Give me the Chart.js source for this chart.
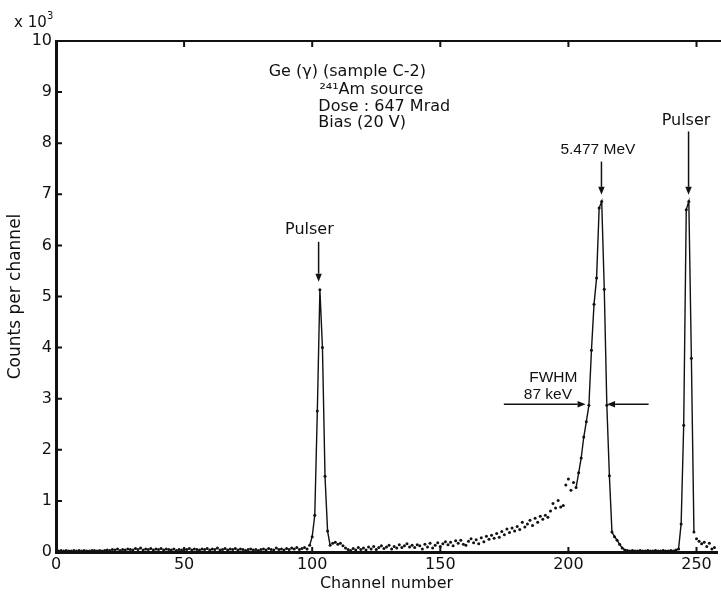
<!DOCTYPE html>
<html>
<head>
<meta charset="utf-8">
<script src="https://cdn.jsdelivr.net/npm/chart.js@4.4.1/dist/chart.umd.min.js"></script>
<style>
  html, body { margin: 0; padding: 0; background: #fff; }
  #wrap { width: 721px; height: 597px; }
</style>
</head>
<body>
<div id="wrap"><canvas id="chart" width="721" height="597"></canvas></div>
<script>
// tick values
const xTicks = [0, 50, 100, 150, 200, 250];
const yTicks = [0, 1, 2, 3, 4, 5, 6, 7, 8, 9, 10];

// counts per channel (x 10^3), channel 0..257
const counts = [
  0.03, 0.02, 0.03, 0.02, 0.03, 0.02, 0.02, 0.03, 0.02, 0.03,
  0.02, 0.03, 0.02, 0.02, 0.03, 0.03, 0.02, 0.03, 0.02, 0.03,
  0.04, 0.03, 0.05, 0.04, 0.06, 0.03, 0.05, 0.04, 0.06, 0.05,
  0.04, 0.07, 0.05, 0.08, 0.04, 0.06, 0.05, 0.07, 0.04, 0.06,
  0.05, 0.07, 0.04, 0.06, 0.05, 0.04, 0.06, 0.03, 0.05, 0.04,
  0.06, 0.05, 0.07, 0.04, 0.06, 0.05, 0.04, 0.06, 0.05, 0.07,
  0.04, 0.06, 0.05, 0.08, 0.04, 0.05, 0.07, 0.04, 0.06, 0.05,
  0.07, 0.04, 0.06, 0.05, 0.03, 0.05, 0.06, 0.04, 0.05, 0.03,
  0.05, 0.06, 0.04, 0.07, 0.05, 0.04, 0.08, 0.05, 0.06, 0.04,
  0.07, 0.05, 0.08, 0.06, 0.09, 0.05, 0.07, 0.09, 0.06, 0.13,
  0.30, 0.72, 2.76, 5.13, 4.00, 1.48, 0.41, 0.13, 0.17, 0.19,
  0.15, 0.17, 0.12, 0.08, 0.05, 0.03, 0.07, 0.04, 0.09, 0.05,
  0.08, 0.04, 0.10, 0.06, 0.11, 0.05, 0.09, 0.12, 0.07, 0.10,
  0.13, 0.06, 0.11, 0.08, 0.14, 0.09, 0.12, 0.16, 0.10, 0.13,
  0.09, 0.14, 0.12, 0.06, 0.15, 0.10, 0.17, 0.08, 0.13, 0.18,
  0.11, 0.16, 0.20, 0.14, 0.19, 0.12, 0.22, 0.17, 0.23, 0.15,
  0.13, 0.21, 0.26, 0.18, 0.24, 0.16, 0.28, 0.20, 0.31, 0.25,
  0.33, 0.27, 0.36, 0.29, 0.40, 0.34, 0.45, 0.38, 0.47, 0.41,
  0.50, 0.44, 0.58, 0.49, 0.55, 0.62, 0.52, 0.66, 0.58, 0.70,
  0.64, 0.72, 0.68, 0.80, 0.95, 0.86, 1.01, 0.88, 0.91, 1.31,
  1.43, 1.21, 1.36, 1.26, 1.55, 1.84, 2.25, 2.55, 2.87, 3.95,
  4.85, 5.36, 6.73, 6.86, 5.14, 2.87, 1.49, 0.39, 0.30, 0.23,
  0.15, 0.08, 0.04, 0.03, 0.02, 0.03, 0.02, 0.02, 0.03, 0.02,
  0.02, 0.03, 0.02, 0.02, 0.03, 0.02, 0.02, 0.03, 0.02, 0.02,
  0.03, 0.02, 0.04, 0.06, 0.55, 2.48, 6.70, 6.86, 3.79, 0.39,
  0.26, 0.21, 0.16, 0.19, 0.11, 0.17, 0.06, 0.09
];

// channel ranges joined by a drawn line
const joined = [[99, 107], [203, 249]];

// annotation texts, placed in data units
const notes = [
  { text: 'Ge (γ) (sample C-2)', x: 83, y: 9.40, align: 'left' },
  { text: '²⁴¹Am source', x: 102.8, y: 9.05, align: 'left' },
  { text: 'Dose : 647 Mrad', x: 102.4, y: 8.72, align: 'left' },
  { text: 'Bias (20 V)', x: 102.4, y: 8.40, align: 'left' },
  { text: 'Pulser', x: 98.9, y: 6.31, align: 'center' },
  { text: 'Pulser', x: 245.9, y: 8.43, align: 'center' },
  { text: '5.477 MeV', x: 211.5, y: 7.87, align: 'center', sans: true },
  { text: 'FWHM', x: 194.1, y: 3.42, align: 'center', sans: true },
  { text: '87 keV', x: 192.0, y: 3.07, align: 'center', sans: true }
];

// arrows: from (x1,y1) to tip (x2,y2)
const arrows = [
  [102.5, 6.07, 102.5, 5.29],
  [212.9, 7.64, 212.9, 6.99],
  [246.9, 8.23, 246.9, 6.99],
  [174.8, 2.89, 206.7, 2.89],
  [231.3, 2.89, 215.1, 2.89]
];

const ink = '#111';
const lettering = '"DejaVu Sans", sans-serif';

function isJoined(a, b) {
  return joined.some(r => a >= r[0] && b <= r[1]);
}

const frame = {
  id: 'frame',
  afterDraw(chart) {
    const { ctx, chartArea: a, scales: { x, y } } = chart;
    ctx.save();
    ctx.strokeStyle = ink;
    ctx.lineWidth = 2;
    ctx.beginPath();
    ctx.moveTo(a.left - 1, a.top);
    ctx.lineTo(chart.width, a.top);
    yTicks.forEach(v => {
      const py = y.getPixelForValue(v);
      ctx.moveTo(a.left, py);
      ctx.lineTo(a.left + 6, py);
    });
    xTicks.forEach(v => {
      const px = x.getPixelForValue(v);
      ctx.moveTo(px, a.bottom);
      ctx.lineTo(px, a.bottom - 5);
      ctx.moveTo(px, a.top);
      ctx.lineTo(px, a.top + 6);
    });
    ctx.stroke();

    // x 10^3
    ctx.fillStyle = ink;
    ctx.font = '15px ' + lettering;
    ctx.textBaseline = 'middle';
    ctx.textAlign = 'left';
    ctx.fillText('x 10', 14, 23);
    ctx.font = '10px ' + lettering;
    ctx.fillText('3', 47, 16);

    notes.forEach(n => {
      ctx.font = n.sans ? '15.5px "Liberation Sans", Arial, sans-serif' : '16px ' + lettering;
      ctx.textAlign = n.align;
      ctx.fillText(n.text, x.getPixelForValue(n.x), y.getPixelForValue(n.y));
    });

    ctx.lineWidth = 1.5;
    arrows.forEach(([x1, y1, x2, y2]) => {
      const ax = x.getPixelForValue(x1), ay = y.getPixelForValue(y1);
      const bx = x.getPixelForValue(x2), by = y.getPixelForValue(y2);
      const ang = Math.atan2(by - ay, bx - ax);
      const hl = 8, hw = 3.2;
      const ex = bx - hl * Math.cos(ang), ey = by - hl * Math.sin(ang);
      ctx.beginPath();
      ctx.moveTo(ax, ay);
      ctx.lineTo(ex, ey);
      ctx.stroke();
      ctx.beginPath();
      ctx.moveTo(bx, by);
      ctx.lineTo(ex - hw * Math.sin(ang), ey + hw * Math.cos(ang));
      ctx.lineTo(ex + hw * Math.sin(ang), ey - hw * Math.cos(ang));
      ctx.closePath();
      ctx.fill();
    });
    ctx.restore();
  }
};

new Chart(document.getElementById('chart'), {
  type: 'scatter',
  data: {
    datasets: [{
      data: counts.map((v, i) => ({ x: i, y: v })),
      showLine: true,
      borderWidth: 1.4,
      segment: {
        borderColor: c => isJoined(c.p0DataIndex, c.p1DataIndex) ? ink : 'rgba(0,0,0,0)'
      },
      pointRadius: 1.5,
      pointBorderWidth: 0,
      pointBackgroundColor: ink
    }]
  },
  options: {
    responsive: false,
    animation: false,
    layout: { padding: { top: 41, right: 2.5, left: 0, bottom: 0 } },
    plugins: { legend: { display: false }, tooltip: { enabled: false } },
    scales: {
      x: {
        type: 'linear',
        min: 0,
        max: 258,
        afterBuildTicks: s => { s.ticks = xTicks.map(v => ({ value: v })); },
        afterFit: s => { s.height = 45; },
        grid: { display: false, drawTicks: false },
        border: { display: true, width: 3, color: ink },
        ticks: { color: ink, padding: 3, maxRotation: 0, autoSkip: false, font: { family: lettering, size: 16 } },
        title: { display: true, text: 'Channel number', color: ink, font: { family: lettering, size: 16 }, padding: { top: 0, bottom: 4 } }
      },
      y: {
        min: 0,
        max: 10,
        afterBuildTicks: s => { s.ticks = yTicks.map(v => ({ value: v })); },
        afterFit: s => { s.width = 56; },
        grid: { display: false, drawTicks: false },
        border: { display: true, width: 3, color: ink },
        ticks: { color: ink, padding: 4, font: { family: lettering, size: 16 } },
        title: { display: true, text: 'Counts per channel', color: ink, font: { family: lettering, size: 17 }, padding: { top: 5, bottom: 0 } }
      }
    }
  },
  plugins: [frame]
});
</script>
</body>
</html>
